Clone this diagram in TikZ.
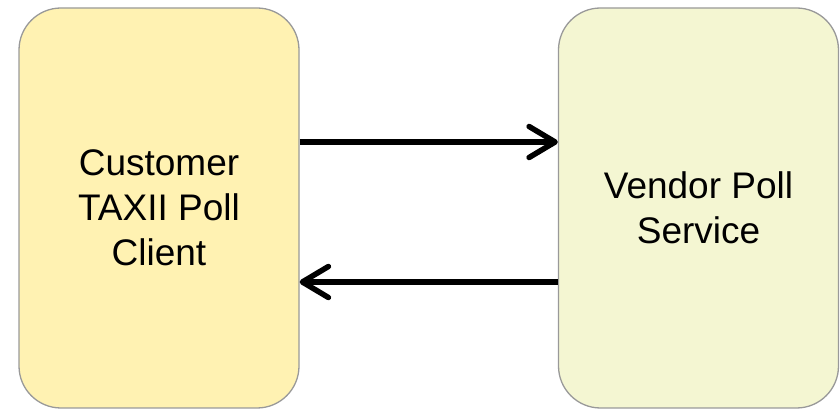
\documentclass[tikz,border=0pt]{standalone}
\usepackage{fontspec}
\setmainfont{Liberation Sans}
\usetikzlibrary{arrows.meta}
\definecolor{clientfill}{HTML}{FFF2B2}
\definecolor{servicefill}{HTML}{F4F6D2}
\definecolor{boxline}{HTML}{999999}
\begin{document}
\begin{tikzpicture}[x=1pt,y=1pt,
  roundbox/.style={draw=boxline, line width=1.3pt, rounded corners=42pt,
    minimum width=280pt, minimum height=400pt, inner sep=0pt,
    align=center, font=\fontsize{37}{45}\selectfont},
  flow/.style={line width=5.5pt, -{Straight Barb[length=26pt,width=31pt,round]}}]
  \useasboundingbox (0,0) rectangle (840,409);
  \node[roundbox, fill=clientfill] (client) at (159,201) {Customer\\TAXII Poll\\Client};
  \node[roundbox, fill=servicefill] (service) at (698.5,201) {Vendor Poll\\Service};
  \coordinate (reqy) at (0,267);
  \coordinate (resy) at (0,127);
  \draw[flow] (client.east |- reqy) -- (service.west |- reqy);
  \draw[flow] (service.west |- resy) -- (client.east |- resy);
\end{tikzpicture}
\end{document}
